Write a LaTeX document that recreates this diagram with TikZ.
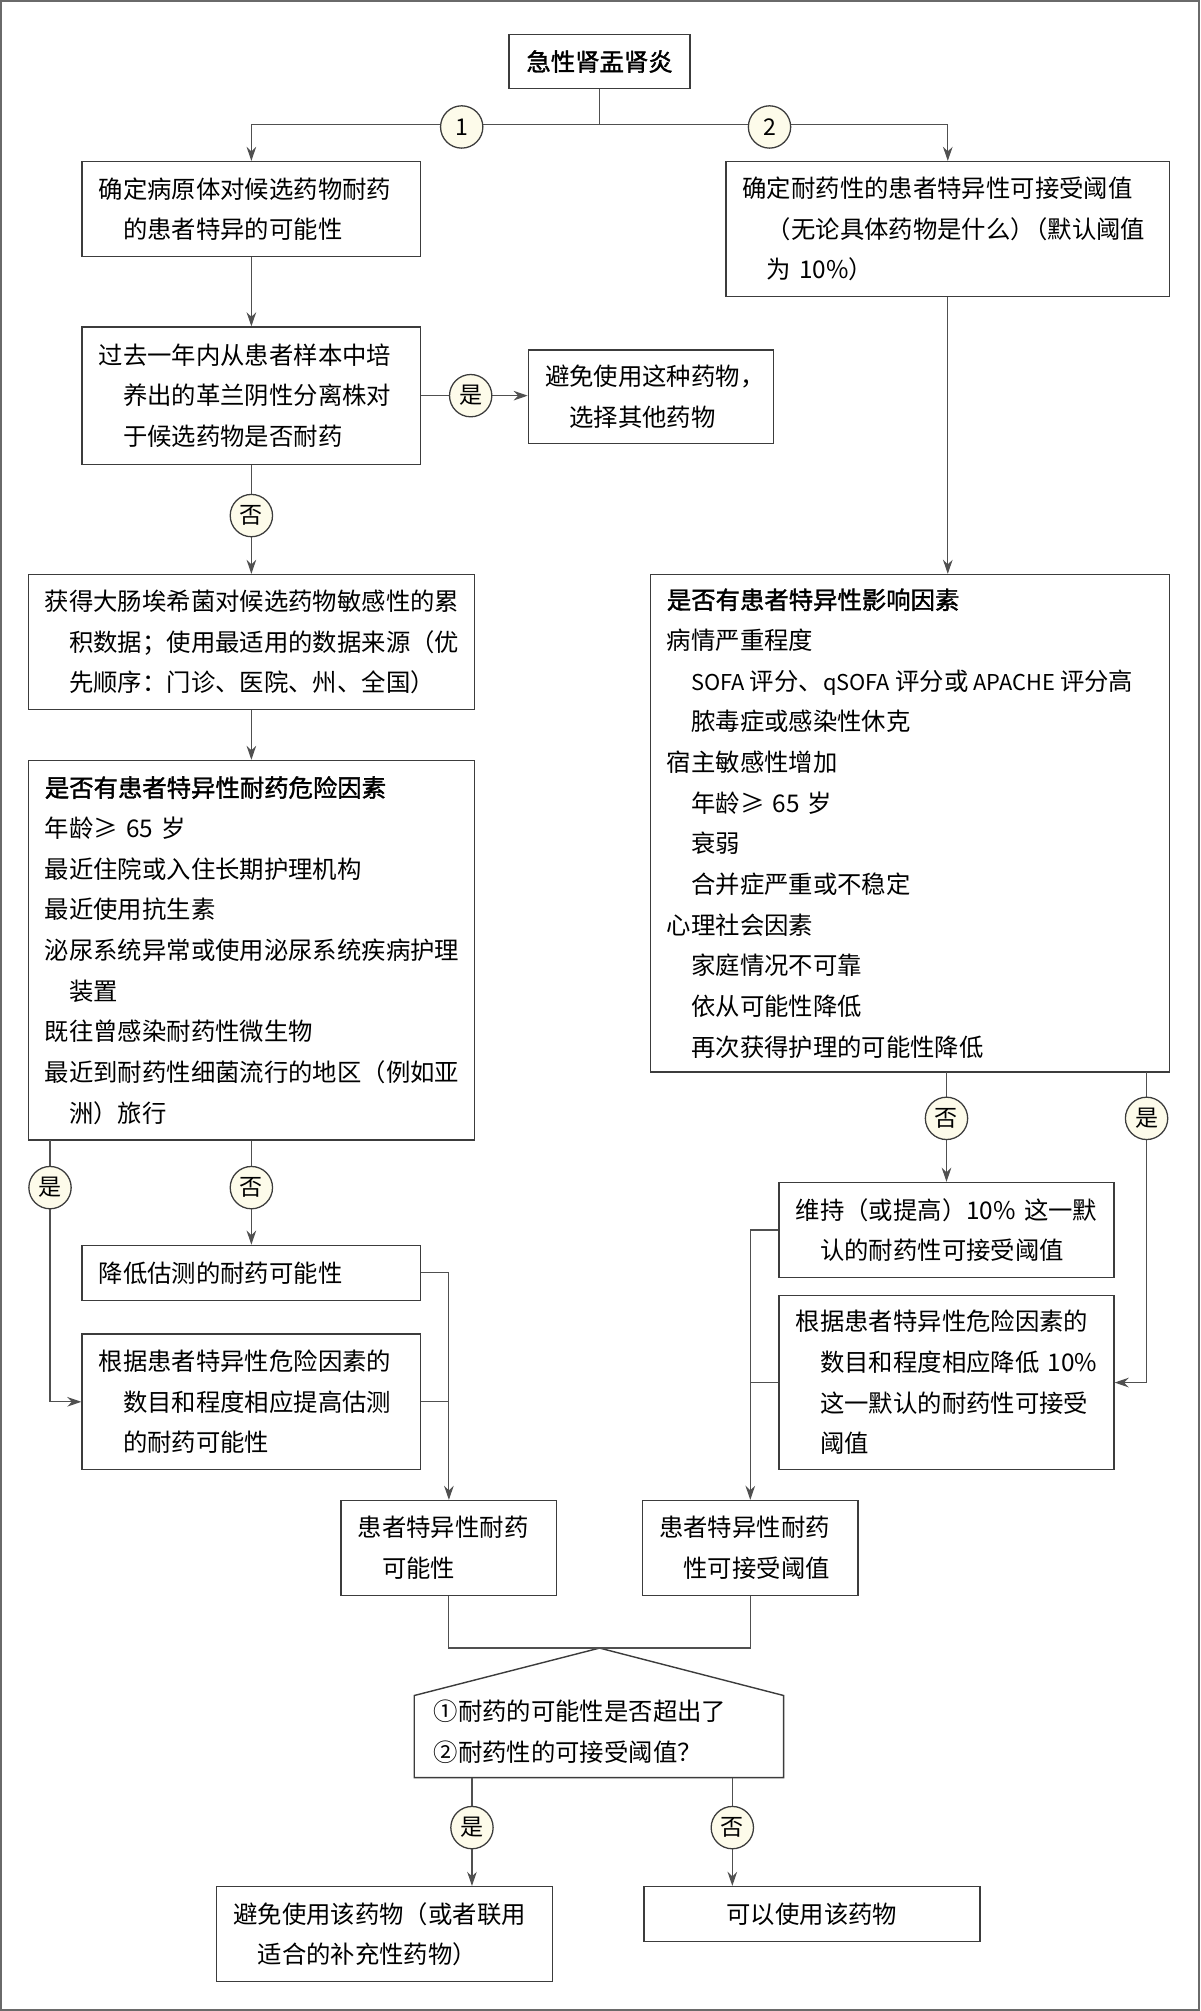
\documentclass[tikz,border=0pt]{standalone}
\usepackage{fontspec}
\usetikzlibrary{arrows.meta}
\newfontfamily\cjk{Noto Sans CJK SC}
\newfontfamily\cjkbf[FakeBold=1.5]{Noto Sans CJK SC}
\newcommand\ind{\hspace*{19pt}}
\newcommand\sml[1]{{\fontsize{17}{31.7}\selectfont #1}}
\definecolor{boxc}{HTML}{3C3C3C}
\definecolor{linec}{HTML}{505050}
\definecolor{cream}{HTML}{FDFBEA}
\definecolor{framec}{HTML}{6A6A6A}
\tikzset{
  box/.style={rectangle, draw=boxc, line width=1.1pt, fill=white, inner xsep=13pt, inner ysep=0pt,
    align=left, font=\cjk\fontsize{19}{31.7}\selectfont},
  cbox/.style={box, align=center},
  ln/.style={draw=linec, line width=0.9pt},
  arr/.style={ln, -{Stealth[length=11pt,width=7.5pt]}},
  yn/.style={circle, draw=boxc, line width=1pt, fill=cream, minimum size=33pt, inner sep=0pt,
    font=\cjk\fontsize{18}{20}\selectfont},
}
\begin{document}
\begin{tikzpicture}[x=1pt,y=-1pt]
\useasboundingbox (0,0) rectangle (936,1568);
\draw[framec, line width=1.6pt] (0.8,0.8) rectangle (935.2,1567.2);

% nodes
\node[cbox, minimum width=141, minimum height=42] (top) at (467.5,48) {\cjkbf 急性肾盂肾炎};
\node[box, minimum width=264, minimum height=74, text width=238] (A1) at (196,163)
  {确定病原体对候选药物耐药\\\ind 的患者特异的可能性};
\node[box, minimum width=346, minimum height=105, text width=320] (B1) at (739,178.5)
  {确定耐药性的患者特异性可接受阈值\\\ind（无论具体药物是什么）\kern-9pt（默认阈值\\\ind 为~10\%）};
\node[box, minimum width=264, minimum height=107, text width=238] (A2) at (196,308.5)
  {过去一年内从患者样本中培\\\ind 养出的革兰阴性分离株对\\\ind 于候选药物是否耐药};
\node[box, minimum width=191, minimum height=73, text width=165] (A3) at (507.5,309.5)
  {避免使用这种药物，\\\ind 选择其他药物};
\node[box, minimum width=348, minimum height=105, text width=322] (A4) at (196,500.5)
  {获得大肠埃希菌对候选药物敏感性的累\\\ind 积数据；使用最适用的数据来源（优\\\ind 先顺序：门诊、医院、州、全国）};
\node[box, minimum width=348, minimum height=296, text width=322] (A5) at (196,741)
  {{\cjkbf 是否有患者特异性耐药危险因素}\\
   年龄≥~65~岁\\
   最近住院或入住长期护理机构\\
   最近使用抗生素\\
   泌尿系统异常或使用泌尿系统疾病护理\\
   \ind 装置\\
   既往曾感染耐药性微生物\\
   最近到耐药性细菌流行的地区（例如亚\\
   \ind 洲）旅行};
\node[box, minimum width=405, minimum height=388, text width=379] (B2) at (709.5,642)
  {{\cjkbf 是否有患者特异性影响因素}\\
   病情严重程度\\
   \ind\mbox{\sml{SOFA}\hspace{4pt}评分、\sml{qSOFA}\hspace{4pt}评分或\hspace{4pt}\sml{APACHE}\hspace{4pt}评分高}\\
   \ind 脓毒症或感染性休克\\
   宿主敏感性增加\\
   \ind 年龄≥~65~岁\\
   \ind 衰弱\\
   \ind 合并症严重或不稳定\\
   心理社会因素\\
   \ind 家庭情况不可靠\\
   \ind 依从可能性降低\\
   \ind 再次获得护理的可能性降低};
\node[box, minimum width=261, minimum height=74, text width=235] (B3) at (738,959)
  {\mbox{维持（或提高）10\% 这一默}\\\ind 认的耐药性可接受阈值};
\node[box, minimum width=261, minimum height=136, text width=235] (B4) at (738,1078)
  {根据患者特异性危险因素的\\\ind\mbox{数目和程度相应降低 10\%}\\\ind 这一默认的耐药性可接受\\\ind 阈值};
\node[box, minimum width=264, minimum height=43, text width=238] (A6) at (196,992.5)
  {降低估测的耐药可能性};
\node[box, minimum width=264, minimum height=106, text width=238] (A7) at (196,1093)
  {根据患者特异性危险因素的\\\ind 数目和程度相应提高估测\\\ind 的耐药可能性};
\node[box, minimum width=168, minimum height=74, text width=142] (A8) at (350,1207)
  {患者特异性耐药\\\ind 可能性};
\node[box, minimum width=168, minimum height=74, text width=142] (B6) at (585,1207)
  {患者特异性耐药\\\ind 性可接受阈值};
\node[box, minimum width=262, minimum height=74, text width=236] (C1) at (300,1508)
  {避免使用该药物（或者联用\\\ind 适合的补充性药物）};
\node[cbox, minimum width=262, minimum height=43, text width=236] (C2) at (633,1492.5)
  {可以使用该药物};

% decision pentagon
\coordinate (apex) at (467.5,1285);
\draw[draw=boxc, line width=1.1pt, fill=white] (apex) -- (611,1322) -- (611,1386) -- (323,1386) -- (323,1322) -- cycle;
\node[anchor=west, align=left, inner sep=0pt, font=\cjk\fontsize{19}{31.7}\selectfont] (Q) at (338,1350)
  {①耐药的可能性是否超出了\\②耐药性的可接受阈值？};
\coordinate (py) at (368,1386);
\coordinate (pn) at (571,1386);

% top split
\coordinate (s0) at (467.5,97);
\draw[ln] (top.south) -- (s0);
\draw[arr] (s0) -| (A1.north);
\draw[arr] (s0) -| (B1.north);
\node[yn] (c1) at (360,99) {1};
\node[yn] (c2) at (600,99) {2};

% left column
\draw[arr] (A1.south) -- (A2.north);
\draw[arr] (A2.east) -- (A2.east -| A3.west);
\node[yn] (y1) at (367,308.5) {是};
\draw[arr] (A2.south) -- (A4.north);
\node[yn] (n1) at (196,402) {否};
\draw[arr] (A4.south) -- (A5.north);
\coordinate (a5y) at (39,889);
\draw[arr] (a5y) |- (A7.west);
\node[yn] (y2) at (39,926) {是};
\draw[arr] (A5.south) -- (A6.north);
\node[yn] (n2) at (196,926) {否};
\draw[arr] (A6.east) -| (A8.north);
\draw[ln] (A7.east) -- (A7.east -| A8.north);

% right column
\draw[arr] (B1.south) -- (B1.south |- B2.north);
\coordinate (b2n) at (738,836);
\coordinate (b2y) at (894,836);
\draw[arr] (b2n) -- (B3.north);
\node[yn] (n3) at (738,872) {否};
\draw[arr] (b2y) |- (B4.east);
\node[yn] (y3) at (894,872) {是};
\draw[arr] (B3.west) -| (B6.north);
\draw[ln] (B4.west) -- (B4.west -| B6.north);

% merge
\draw[ln] (A8.south) |- (apex) -| (B6.south);

% final
\draw[arr] (py) -- (py |- C1.north);
\node[yn] (y4) at (368,1425) {是};
\draw[arr] (pn) -- (pn |- C2.north);
\node[yn] (n4) at (571,1425) {否};
\end{tikzpicture}
\end{document}
